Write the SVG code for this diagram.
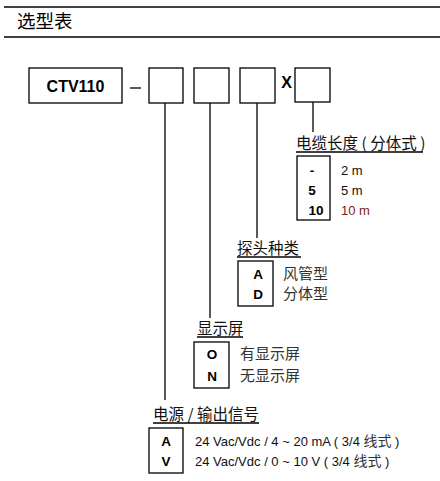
<svg xmlns="http://www.w3.org/2000/svg" width="440" height="481" viewBox="0 0 440 481">
<style>
.ln{stroke:#000;stroke-width:1.3;fill:none}
.bx{stroke:#000;stroke-width:1.3;fill:#fff}
.cb{font-family:"Liberation Sans",Arial,sans-serif;font-weight:bold;fill:#000}
.lt{font-family:"Liberation Sans","Noto Sans CJK SC",sans-serif;font-size:13px;fill:#111}
.cj{font-family:"Noto Sans CJK SC",sans-serif;font-size:15px;fill:#333}
.tt{font-family:"Noto Sans CJK SC","Liberation Sans",sans-serif;font-size:15.5px;fill:#111}
</style>
<g id="header">
<line class="ln" x1="4" y1="7" x2="440" y2="7" stroke-width="2"/>
<line class="ln" x1="4" y1="37" x2="440" y2="37" stroke-width="2"/>
<text x="17" y="28" font-family="Noto Sans CJK SC,sans-serif" font-size="18.5" fill="#000">选型表</text>
</g>
<g id="model">
<rect class="bx" x="29" y="68" width="93" height="35"/>
<text class="cb" x="75.5" y="92" font-size="16" text-anchor="middle">CTV110</text>
<line class="ln" x1="130" y1="88" x2="141" y2="88"/>
</g>
<g id="box-power"><rect class="bx" x="149" y="68" width="34" height="35"/></g>
<g id="box-display"><rect class="bx" x="194" y="68" width="35" height="35"/></g>
<g id="box-probe"><rect class="bx" x="240" y="68" width="35" height="35"/></g>
<g id="x-mark"><text class="cb" x="286.5" y="88" font-size="16" text-anchor="middle">X</text></g>
<g id="box-length"><rect class="bx" x="295" y="68" width="35" height="34"/></g>
<g id="connectors">
<line class="ln" x1="165" y1="103" x2="165" y2="400"/>
<line class="ln" x1="210" y1="103" x2="210" y2="318"/>
<line class="ln" x1="257" y1="103" x2="257" y2="238"/>
<line class="ln" x1="313" y1="102" x2="313" y2="132"/>
</g>
<g id="length-table">
<text class="tt" x="296" y="149">电缆长度 ( 分体式 )</text>
<line class="ln" x1="296" y1="152" x2="423" y2="152"/>
<rect class="bx" x="297" y="156" width="33" height="64"/>
<text class="cb" x="312" y="175" font-size="13.5" text-anchor="middle">-</text>
<text class="cb" x="312" y="195" font-size="13.5" text-anchor="middle">5</text>
<text class="cb" x="316" y="215" font-size="13.5" text-anchor="middle">10</text>
<text class="lt" x="341" y="175">2 m</text>
<text class="lt" x="341" y="195">5 m</text>
<text class="lt" x="341" y="215" style="fill:#7b1c1c">10 m</text>
</g>
<g id="probe-table">
<text class="tt" x="237" y="254">探头种类</text>
<line class="ln" x1="237" y1="257" x2="301" y2="257"/>
<rect class="bx" x="238" y="261" width="35" height="45"/>
<text class="cb" x="258" y="279" font-size="13.5" text-anchor="middle">A</text>
<text class="cb" x="258" y="299" font-size="13.5" text-anchor="middle">D</text>
<text class="cj" x="283" y="279">风管型</text>
<text class="cj" x="283" y="299">分体型</text>
</g>
<g id="display-table">
<text class="tt" x="197" y="334">显示屏</text>
<line class="ln" x1="197" y1="337" x2="243" y2="337"/>
<rect class="bx" x="194" y="342" width="35" height="46"/>
<text class="cb" x="212" y="359" font-size="13.5" text-anchor="middle">O</text>
<text class="cb" x="212" y="381" font-size="13.5" text-anchor="middle">N</text>
<text class="cj" x="240" y="359">有显示屏</text>
<text class="cj" x="240" y="381">无显示屏</text>
</g>
<g id="power-table">
<text class="tt" x="153" y="420">电源 / 输出信号</text>
<line class="ln" x1="153" y1="423" x2="259" y2="423"/>
<rect class="bx" x="149" y="428" width="34" height="45"/>
<text class="cb" x="166" y="446" font-size="13.5" text-anchor="middle">A</text>
<text class="cb" x="166" y="466" font-size="13.5" text-anchor="middle">V</text>
<text class="lt" x="195" y="446">24 Vac/Vdc / 4 ~ 20 mA ( 3/4 <tspan class="cj" style="font-size:14px">线式</tspan> )</text>
<text class="lt" x="195" y="466">24 Vac/Vdc / 0 ~ 10 V ( 3/4 <tspan class="cj" style="font-size:14px">线式</tspan> )</text>
</g>
</svg>
